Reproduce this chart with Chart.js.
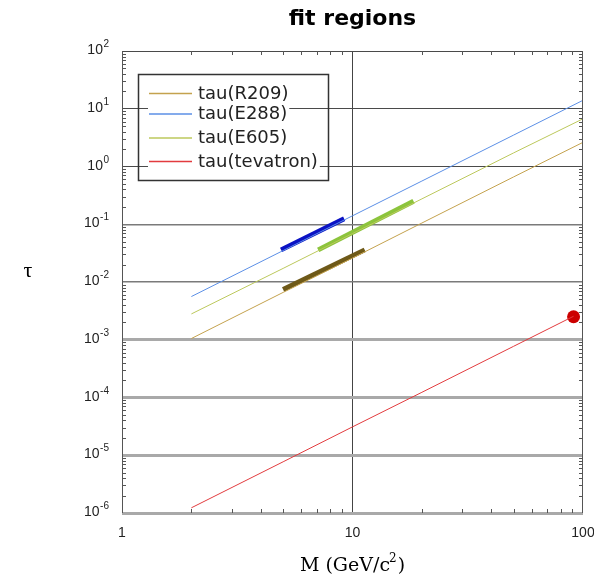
<!DOCTYPE html>
<html>
<head>
<meta charset="utf-8">
<script src="https://cdn.jsdelivr.net/npm/chart.js@4.4.1/dist/chart.umd.min.js"></script>
<style>
  html, body { margin: 0; padding: 0; background: #fff; }
  #wrap { width: 594px; height: 577px; position: relative; }
</style>
</head>
<body>
<div id="wrap"><canvas id="c"></canvas></div>
<script>
// tau = M^2 / s curves for each experiment, sampled along M (GeV/c^2)
const massGrid = [2, 5, 10, 20, 50, 100];
const tauR209 = [0.00105, 0.0066, 0.026, 0.105, 0.66, 2.62];
const tauE288 = [0.0056, 0.035, 0.14, 0.56, 3.5, 14];
const tauE605 = [0.0028, 0.0172, 0.069, 0.275, 1.72, 6.7];
const massTevatron = [2, 5, 10, 20, 50, 91];
const tauTevatron = [1.23e-6, 7.7e-6, 3.1e-5, 1.23e-4, 7.7e-4, 2.55e-3];

// mass windows actually used in the fits
const fitMassR209 = [5.0, 11.3];
const fitTauR209 = [0.0074, 0.036];
const fitMassE288 = [4.9, 9.2];
const fitTauE288 = [0.036, 0.125];
const fitMassE605 = [7.1, 18.4];
const fitTauE605 = [0.036, 0.25];

// Z peak at the Tevatron
const zMass = [91];
const zTau = [0.0025];

const legendLabels = ['tau(R209)', 'tau(E288)', 'tau(E605)', 'tau(tevatron)'];
const xTickValues = [1, 10, 100];
const xTickLabels = ['1', '10', '100'];
const yTickValues = [1e-6, 1e-5, 1e-4, 1e-3, 1e-2, 1e-1, 1, 10, 100];
const yTickExponents = ['-6', '-5', '-4', '-3', '-2', '-1', '0', '1', '2'];

const colR209 = '#c4a24e';
const colE288 = '#5b8fe6';
const colE605 = '#bcc85c';
const colTev = '#e23b3e';

const pts = (xs, ys) => xs.map((x, i) => ({ x: x, y: ys[i] }));

const thin = (label, data, color) => ({
  label, data, borderColor: color, backgroundColor: color,
  borderWidth: 1, pointRadius: 0, tension: 0, fill: false
});
const thick = (data, color) => ({
  label: '', data, borderColor: color, backgroundColor: color,
  borderWidth: 5, pointRadius: 0, tension: 0, fill: false, borderCapStyle: 'butt'
});

const datasets = [
  thin(legendLabels[0], pts(massGrid, tauR209), colR209),
  thin(legendLabels[1], pts(massGrid, tauE288), colE288),
  thin(legendLabels[2], pts(massGrid, tauE605), colE605),
  thin(legendLabels[3], pts(massTevatron, tauTevatron), colTev),
  thick(pts(fitMassE288, fitTauE288), '#0b12c4'),
  thick(pts(fitMassE605, fitTauE605), '#8cc43c'),
  thick(pts(fitMassR209, fitTauR209), '#6e5918'),
  {
    label: '', data: pts(zMass, zTau), showLine: false,
    pointStyle: 'circle', pointRadius: 6.5,
    backgroundColor: '#cc0000', borderColor: '#cc0000', borderWidth: 0
  }
];

const decorations = {
  id: 'decorations',
  afterDraw(chart) {
    const ctx = chart.ctx;
    const a = chart.chartArea;
    const xs = chart.scales.x, ys = chart.scales.y;
    ctx.save();

    // frame
    ctx.strokeStyle = '#555';
    ctx.lineWidth = 1;
    ctx.beginPath();
    ctx.moveTo(Math.round(a.left) + 0.5, a.top);
    ctx.lineTo(Math.round(a.left) + 0.5, a.bottom);
    ctx.moveTo(Math.round(a.right) - 0.5, a.top);
    ctx.lineTo(Math.round(a.right) - 0.5, a.bottom);
    ctx.stroke();

    // minor ticks, pointing inward on all four sides
    ctx.beginPath();
    for (let d = 1; d < 100; d *= 10) {
      for (let k = 2; k <= 9; k++) {
        const px = Math.round(xs.getPixelForValue(k * d)) + 0.5;
        ctx.moveTo(px, a.bottom); ctx.lineTo(px, a.bottom - 4);
        ctx.moveTo(px, a.top); ctx.lineTo(px, a.top + 4);
      }
    }
    for (let e = -6; e < 2; e++) {
      const d = Math.pow(10, e);
      for (let k = 2; k <= 9; k++) {
        const py = Math.round(ys.getPixelForValue(k * d)) + 0.5;
        ctx.moveTo(a.left, py); ctx.lineTo(a.left + 4, py);
        ctx.moveTo(a.right, py); ctx.lineTo(a.right - 4, py);
      }
    }
    ctx.stroke();

    // y tick labels as 10 with a raised exponent
    ctx.fillStyle = '#222';
    ctx.textAlign = 'right';
    ctx.textBaseline = 'alphabetic';
    const labRight = a.left - 13;
    yTickValues.forEach((v, i) => {
      const py = ys.getPixelForValue(v);
      ctx.font = '10px "Liberation Sans", Arial, sans-serif';
      const ew = ctx.measureText(yTickExponents[i]).width;
      ctx.fillText(yTickExponents[i], labRight, py - 4);
      ctx.font = '14px "Liberation Sans", Arial, sans-serif';
      ctx.fillText('10', labRight - ew - 0.5, py + 3);
    });

    // x tick labels
    ctx.textAlign = 'center';
    ctx.textBaseline = 'middle';
    ctx.font = '14px "Liberation Sans", Arial, sans-serif';
    xTickValues.forEach((v, i) => {
      ctx.fillText(xTickLabels[i], xs.getPixelForValue(v), a.bottom + 20);
    });

    // title
    const cx = (a.left + a.right) / 2;
    ctx.fillStyle = '#000';
    ctx.font = 'bold 22px "DejaVu Sans", sans-serif';
    ctx.fillText('fit regions', cx, 19);

    // axis titles
    ctx.font = '22px "Liberation Serif", serif';
    ctx.fillText('\u03c4', 28, 271);

    ctx.textAlign = 'left';
    ctx.textBaseline = 'alphabetic';
    const main = '19px "DejaVu Serif", serif';
    const sup = '12px "DejaVu Serif", serif';
    const partA = 'M (GeV/c', partB = '2', partC = ')';
    ctx.font = main; const wA = ctx.measureText(partA).width; const wC = ctx.measureText(partC).width;
    ctx.font = sup; const wB = ctx.measureText(partB).width;
    let x0 = cx - (wA + wB + wC) / 2;
    const base = 571;
    ctx.font = main; ctx.fillText(partA, x0, base);
    ctx.font = sup; ctx.fillText(partB, x0 + wA - 1, base - 9);
    ctx.font = main; ctx.fillText(partC, x0 + wA + wB, base);

    // legend
    ctx.strokeStyle = '#333';
    ctx.lineWidth = 1.5;
    ctx.strokeRect(138.5, 74.5, 190, 106);
    const rows = [93, 113.5, 137.5, 161];
    ctx.font = '18px "DejaVu Sans", sans-serif';
    ctx.textBaseline = 'middle';
    for (let i = 0; i < 4; i++) {
      const ds = chart.data.datasets[i];
      const tw = ctx.measureText(legendLabels[i]).width;
      ctx.fillStyle = '#fff';
      ctx.fillRect(148, rows[i] - 9, 198 + tw - 148 + 2, 18);
      ctx.strokeStyle = ds.borderColor;
      ctx.lineWidth = 1.5;
      ctx.beginPath();
      ctx.moveTo(149, rows[i] + 0.5); ctx.lineTo(192, rows[i] + 0.5);
      ctx.stroke();
      ctx.fillStyle = '#222';
      ctx.fillText(legendLabels[i], 198, rows[i] + 1);
    }
    ctx.restore();
  }
};

new Chart(document.getElementById('c'), {
  type: 'line',
  data: { datasets },
  options: {
    responsive: true,
    maintainAspectRatio: false,
    animation: false,
    events: [],
    layout: { padding: { top: 51, right: 11, left: 0, bottom: 0 } },
    plugins: { legend: { display: false }, title: { display: false }, tooltip: { enabled: false } },
    scales: {
      x: {
        type: 'logarithmic', min: 1, max: 100,
        afterBuildTicks: s => { s.ticks = xTickValues.map(v => ({ value: v })); },
        afterFit: s => { s.height = 64; },
        ticks: { display: false },
        border: { display: false },
        grid: {
          drawTicks: false,
          color: c => (c.tick && c.tick.value === 10) ? '#444' : 'rgba(0,0,0,0)',
          lineWidth: 1
        }
      },
      y: {
        type: 'logarithmic', min: 1e-6, max: 100,
        afterBuildTicks: s => { s.ticks = yTickValues.map(v => ({ value: v })); },
        afterFit: s => { s.width = 122; },
        ticks: { display: false },
        border: { display: false },
        grid: {
          drawTicks: false,
          color: c => {
            const v = c.tick ? c.tick.value : 1;
            if (v <= 1.01e-3) return '#a9a9a9';
            if (v <= 0.101) return '#7a7a7a';
            return '#4a4a4a';
          },
          lineWidth: c => {
            const v = c.tick ? c.tick.value : 1;
            if (v <= 1.01e-3) return 3;
            if (v <= 0.101) return 1.5;
            return 1;
          }
        }
      }
    }
  },
  plugins: [decorations]
});
</script>
</body>
</html>
